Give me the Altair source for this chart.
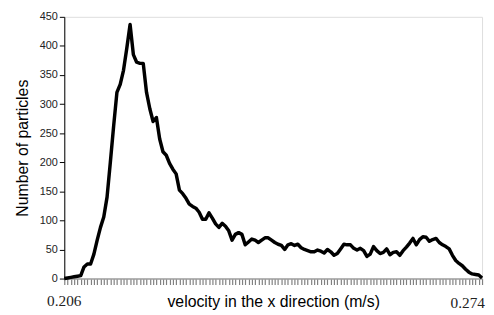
import altair as alt
import pandas as pd

counts = [0, 1, 2, 3, 4, 5, 20, 25, 25, 42, 66, 88, 106, 140, 200, 262, 320, 334, 358, 396,
          437, 385, 372, 370, 370, 320, 292, 270, 277, 240, 218, 212, 198, 188, 180, 152, 146, 138, 128, 124,
          121, 114, 102, 102, 113, 104, 94, 88, 95, 90, 82, 66, 76, 79, 76, 58, 63, 68, 66, 62,
          66, 70, 70, 66, 62, 59, 57, 50, 58, 60, 57, 59, 53, 50, 48, 46, 46, 49, 47, 44,
          50, 46, 40, 43, 51, 59, 58, 58, 52, 49, 52, 48, 38, 42, 55, 48, 43, 45, 51, 41,
          45, 46, 40, 48, 54, 61, 69, 58, 67, 72, 71, 64, 67, 69, 62, 58, 55, 51, 40, 31,
          26, 22, 16, 11, 8, 7, 6, 1]
bins = list(range(len(counts)))
end_labels = ["0.206", "0.274"]
end_pos = [0, len(counts) - 1]
y_ticks = [0, 50, 100, 150, 200, 250, 300, 350, 400, 450]

df = pd.DataFrame({"bin": bins, "count": counts})
xscale = alt.Scale(domain=[0, len(counts) - 1], nice=False, zero=False)
xaxis = alt.Axis(values=bins, labels=False, title="velocity in the x direction (m/s)",
                 domainColor="#a0a0a0", domainWidth=1.5, tickColor="#808080",
                 tickWidth=1.2, tickSize=6, grid=False,
                 titleFont="Liberation Sans", titleFontSize=16, titleFontWeight="normal",
                 titleColor="black", titlePadding=9)

line = alt.Chart(df).mark_line(color="black", strokeWidth=3.5, strokeJoin="round").encode(
    x=alt.X("bin:Q", scale=xscale, axis=xaxis),
    y=alt.Y("count:Q", scale=alt.Scale(domain=[0, 450], nice=False),
            axis=alt.Axis(values=y_ticks, grid=False, title="Number of particles",
                          domainColor="black", tickColor="black", tickSize=5,
                          labelFont="Liberation Sans", labelFontSize=11, labelColor="#222",
                          titleFont="Liberation Sans", titleFontSize=16, titleFontWeight="normal",
                          titleColor="black", titlePadding=9)),
)

lab_df = pd.DataFrame({"pos": end_pos, "lab": end_labels})
left_lab = alt.Chart(lab_df.iloc[[0]]).mark_text(
    font="Liberation Serif", fontSize=15.5, align="center", baseline="middle", color="#222"
).encode(x=alt.X("pos:Q", scale=xscale, axis=xaxis), y=alt.value(288), text="lab:N")
right_lab = alt.Chart(lab_df.iloc[[1]]).mark_text(
    font="Liberation Serif", fontSize=15.5, align="right", baseline="middle", dx=3, color="#222"
).encode(x=alt.X("pos:Q", scale=xscale, axis=xaxis), y=alt.value(290), text="lab:N")

chart = alt.layer(line, left_lab, right_lab).properties(
    width=423, height=265,
    autosize=alt.AutoSizeParams(type="none"),
    padding={"left": 57, "top": 7, "right": 4, "bottom": 40},
).configure_view(stroke=None).configure(background="white")

chart.save("out.html", embed_options={"renderer": "svg", "actions": False})
